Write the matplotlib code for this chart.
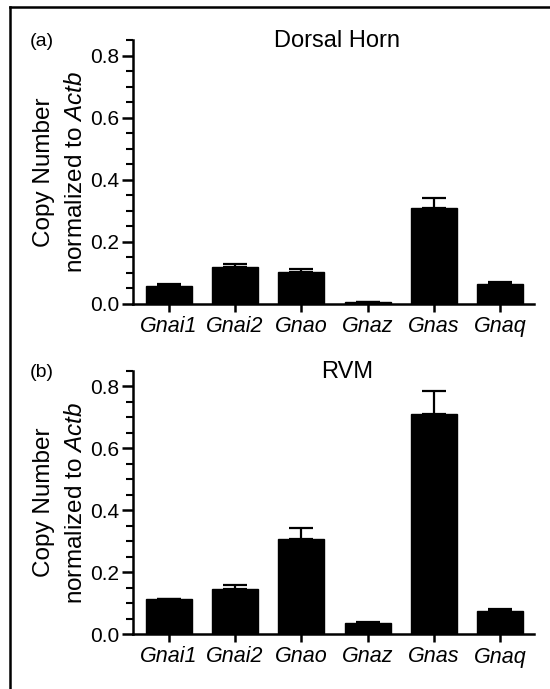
import matplotlib
matplotlib.use("Agg")
import matplotlib.pyplot as plt
from matplotlib.lines import Line2D
from matplotlib.ticker import MultipleLocator
import numpy as np

plt.rcParams['font.family'] = ['Liberation Sans', 'DejaVu Sans']
plt.rcParams['mathtext.fontset'] = 'custom'
plt.rcParams['mathtext.rm'] = 'Liberation Sans'
plt.rcParams['mathtext.it'] = 'Liberation Sans:italic'

genes = ["Gnai1", "Gnai2", "Gnao", "Gnaz", "Gnas", "Gnaq"]
dh_mean = [0.057, 0.120, 0.103, 0.005, 0.309, 0.063]
dh_err = [0.007, 0.009, 0.011, 0.001, 0.032, 0.007]
rvm_mean = [0.112, 0.146, 0.307, 0.036, 0.711, 0.075]
rvm_err = [0.002, 0.012, 0.037, 0.002, 0.075, 0.005]
titles = ["Dorsal Horn", "RVM"]
panel_labels = ["(a)", "(b)"]
ylabel_lines = ["Copy Number", "normalized to $\\mathit{Actb}$"]
yticks = [0.0, 0.2, 0.4, 0.6, 0.8]

W, H = 550, 689
fig = plt.figure(figsize=(W / 100, H / 100), dpi=100)

def fx(px):
    return px / W

def fy(py):
    return 1 - py / H

ax_left, ax_right = 133, 534
panels = [(40, 304), (371, 634)]
title_x = [337, 347]
data = [(dh_mean, dh_err), (rvm_mean, rvm_err)]

for i, ((top, bot), (m, e)) in enumerate(zip(panels, data)):
    ax = fig.add_axes([fx(ax_left), fy(bot), fx(ax_right - ax_left), (bot - top) / H])
    x = np.arange(len(genes))
    ax.bar(x, m, width=0.69, color='black', edgecolor='black', zorder=2)
    ax.errorbar(x, m, yerr=[np.zeros(len(e)), e], fmt='none', ecolor='black',
                elinewidth=1.6, capsize=8.5, capthick=1.6, zorder=1)
    ax.set_xlim(-0.54, 5.51)
    ax.set_ylim(0, 0.85)
    ax.set_yticks(yticks)
    ax.set_yticklabels([f"{v:.1f}" for v in yticks])
    ax.yaxis.set_minor_locator(MultipleLocator(0.05))
    ax.set_xticks(x)
    ax.set_xticklabels(genes, fontstyle='italic', fontsize=15.5)
    ax.tick_params(axis='y', which='major', length=8, width=1.8, labelsize=15, pad=2)
    ax.tick_params(axis='y', which='minor', length=5, width=1.5)
    ax.tick_params(axis='x', which='major', length=6, width=1.8, pad=3)
    for s in ['top', 'right']:
        ax.spines[s].set_visible(False)
    for s in ['left', 'bottom']:
        ax.spines[s].set_linewidth(1.8)
    yc = fy((top + bot) / 2)
    fig.text(fx(44), yc, ylabel_lines[0], fontsize=17.5, rotation=90,
             ha='center', va='center')
    fig.text(fx(76), yc, ylabel_lines[1], fontsize=17.5, rotation=90,
             ha='center', va='center')
    fig.text(fx(title_x[i]), fy(top + 1), titles[i], fontsize=17, ha='center', va='center')
    fig.text(fx(42), fy(top + 1), panel_labels[i], fontsize=14, ha='center', va='center')

# frame lines
fig.add_artist(Line2D([fx(10), 1.0], [fy(7), fy(7)], transform=fig.transFigure,
                      color='black', linewidth=1.8))
fig.add_artist(Line2D([fx(10), fx(10)], [fy(7), 0.0], transform=fig.transFigure,
                      color='black', linewidth=1.8))

fig.savefig("out.png", dpi=100)
